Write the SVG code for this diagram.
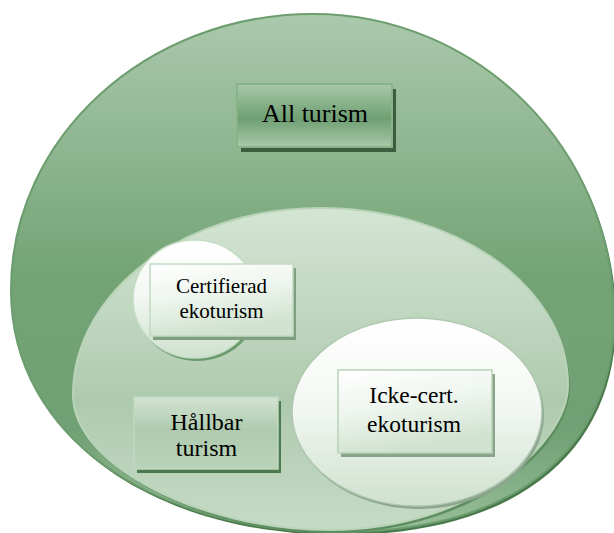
<svg xmlns="http://www.w3.org/2000/svg" width="614" height="533" viewBox="0 0 614 533">
<defs>
<linearGradient id="gOuter" x1="0" y1="0" x2="0" y2="1">
<stop offset="0" stop-color="#abc9ac"/>
<stop offset="0.5" stop-color="#74a476"/>
<stop offset="0.8" stop-color="#70a073"/>
<stop offset="1" stop-color="#98be99"/>
</linearGradient>
<linearGradient id="gInner" x1="0" y1="0" x2="0" y2="1">
<stop offset="0" stop-color="#d4e5d4"/>
<stop offset="0.6" stop-color="#aecaae"/>
<stop offset="1" stop-color="#c6dbc6"/>
</linearGradient>
<linearGradient id="gWhite" x1="0" y1="0" x2="0" y2="1">
<stop offset="0" stop-color="#ffffff"/>
<stop offset="0.45" stop-color="#f4f8f4"/>
<stop offset="1" stop-color="#cfe1cf"/>
</linearGradient>
<linearGradient id="gBoxDark" x1="0" y1="0" x2="0" y2="1">
<stop offset="0" stop-color="#a9c9a9"/>
<stop offset="0.55" stop-color="#6f9f72"/>
<stop offset="1" stop-color="#a9c9a9"/>
</linearGradient>
<linearGradient id="gBoxMid" x1="0" y1="0" x2="0" y2="1">
<stop offset="0" stop-color="#d2e4d2"/>
<stop offset="0.45" stop-color="#afcbaf"/>
<stop offset="1" stop-color="#b9d3b9"/>
</linearGradient>
<linearGradient id="gBoxLight" x1="0" y1="0" x2="0.3" y2="1">
<stop offset="0" stop-color="#ffffff"/>
<stop offset="0.5" stop-color="#eef5ee"/>
<stop offset="1" stop-color="#d0e2d0"/>
</linearGradient>
</defs>
<style>
.lbl{font-family:"Liberation Serif","Times New Roman",serif;fill:#000;text-anchor:middle}
</style>

<g id="all-turism-area">
<path d="M313,14 C479,14 614,150 614,317 C614,447 518,532 338,532 C158,532 11,440 11,290 C11,138 146,14 313,14 Z" fill="#4a7a4c" transform="translate(2,3)"/>
<path d="M313,14 C479,14 614,150 614,317 C614,447 518,532 338,532 C158,532 11,440 11,290 C11,138 146,14 313,14 Z" fill="url(#gOuter)" stroke="#6c9d6e" stroke-width="2"/>
</g>

<g id="hallbar-area">
<path d="M320,208 C457,208 568,287 568,385 C568,445 470,530 330,530 C200,530 73,465 73,395 C73,292 184,208 320,208 Z" fill="#5e8e60" transform="translate(2,3)"/>
<path d="M320,208 C457,208 568,287 568,385 C568,445 470,530 330,530 C200,530 73,465 73,395 C73,292 184,208 320,208 Z" fill="url(#gInner)" stroke="#b9d4b9" stroke-width="2"/>
</g>

<g id="certifierad-area">
<ellipse cx="197" cy="302" rx="62" ry="59" fill="#6a9a6c"/>
<ellipse cx="195" cy="299" rx="62" ry="59" fill="url(#gWhite)" stroke="#c5dcc5" stroke-width="1.5"/>
</g>

<g id="icke-cert-area">
<ellipse cx="419" cy="415" rx="125" ry="94" fill="#8da58e"/>
<ellipse cx="417" cy="412" rx="125" ry="94" fill="url(#gWhite)" stroke="#b0c8b0" stroke-width="1.5"/>
</g>

<g id="node-all-turism">
<rect x="241" y="89" width="155" height="63" fill="#3d5e3e"/>
<rect x="237" y="84" width="155" height="63" fill="url(#gBoxDark)" stroke="#86b487" stroke-width="2"/>
<text class="lbl" x="315" y="122" font-size="26">All turism</text>
</g>

<g id="node-certifierad">
<rect x="153" y="268" width="143" height="72" fill="#7e9f80"/>
<rect x="150" y="264" width="143" height="72" fill="url(#gBoxLight)" stroke="#c2d9c2" stroke-width="1.5"/>
<text class="lbl" x="221.5" y="293" font-size="21">Certifierad</text>
<text class="lbl" x="221.5" y="318" font-size="21">ekoturism</text>
</g>

<g id="node-hallbar">
<rect x="137" y="401" width="144" height="72" fill="#4c7a4e"/>
<rect x="134" y="397" width="144" height="72" fill="url(#gBoxMid)" stroke="#c0d8c0" stroke-width="1.5"/>
<text class="lbl" x="206.5" y="430" font-size="24">Hållbar</text>
<text class="lbl" x="206.5" y="456" font-size="24">turism</text>
</g>

<g id="node-icke-cert">
<rect x="341" y="374" width="154" height="83" fill="#8aa38b"/>
<rect x="338" y="370" width="154" height="83" fill="url(#gBoxLight)" stroke="#b8d2b8" stroke-width="1.5"/>
<text class="lbl" x="414" y="403" font-size="23.5">Icke-cert.</text>
<text class="lbl" x="414" y="432" font-size="23.5">ekoturism</text>
</g>

<g id="connectors"/>
</svg>
